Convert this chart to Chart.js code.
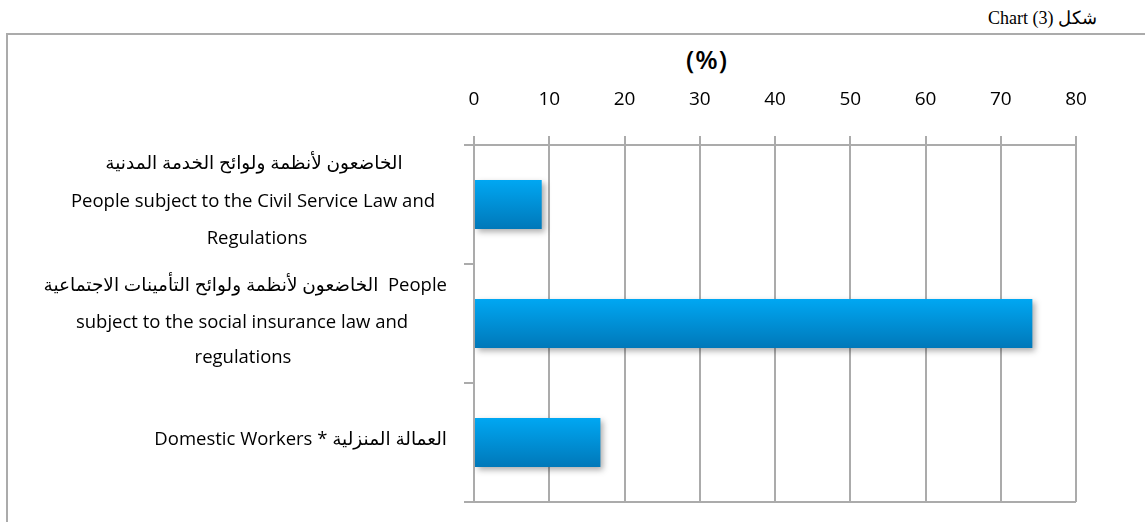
<!DOCTYPE html>
<html><head><meta charset="utf-8">
<script src="https://cdn.jsdelivr.net/npm/chart.js@4.4.0/dist/chart.umd.min.js"></script>
<style>
html,body{margin:0;padding:0;background:#fff;width:1145px;height:522px;overflow:hidden;}
#frame{position:absolute;left:6px;top:33px;width:1145px;height:500px;border-left:2px solid #ababab;border-top:2px solid #ababab;}
#cap{position:absolute;right:48px;top:7px;font-family:'Liberation Serif','Times New Roman',serif;font-size:18px;color:#000;white-space:nowrap;}
#unit{position:absolute;left:686px;top:41px;font-family:'Open Sans',sans-serif;font-size:26px;font-weight:600;letter-spacing:1px;color:#000;}
#wrap{position:absolute;left:0;top:0;width:1145px;height:522px;}
</style></head><body>
<div id="frame"></div>
<div id="cap">Chart (3) شكل</div>
<div id="unit">(%)</div>
<div id="wrap"><canvas id="c" width="1145" height="522"></canvas></div>
<script>
// ---- data ----
const categories = [
  ['الخاضعون لأنظمة ولوائح الخدمة المدنية', 'People subject to the Civil Service Law and', 'Regulations'],
  ['الخاضعون لأنظمة ولوائح التأمينات الاجتماعية  People', 'subject to the social insurance law and', 'regulations'],
  ['Domestic Workers * العمالة المنزلية']
];
const values = [9.0, 74.2, 16.8];
const xTickMin = 0;
const xTickMax = 80;
const xTickStep = 10;

// ---- layout / style (not data) ----
const GRID = '#ababab';
const FONT = "'Open Sans', 'DejaVu Sans', sans-serif";
const labelLayout = [
  [{x: 254, a: 'center', dy: -41}, {x: 253, a: 'center', dy: -3}, {x: 257, a: 'center', dy: 34}],
  [{x: 447, a: 'right', dy: -38}, {x: 242, a: 'center', dy: -1}, {x: 243, a: 'center', dy: 34}],
  [{x: 447, a: 'right', dy: -3}]
];

const barPct = 0.41;

function barGradient(ctx) {
  const chart = ctx.chart;
  if (!chart.chartArea || !chart.scales.y) return '#0090D5';
  const ys = chart.scales.y;
  const y = ys.getPixelForValue(ctx.dataIndex);
  const h = (ys.bottom - ys.top) / categories.length * barPct;
  const g = chart.ctx.createLinearGradient(0, y - h / 2, 0, y + h / 2);
  g.addColorStop(0, '#00A7F2');
  g.addColorStop(1, '#0078B9');
  return g;
}

const shadowPlugin = {
  id: 'barShadow',
  beforeDatasetsDraw(chart) {
    const c = chart.ctx; c.save();
    c.shadowColor = 'rgba(0,0,0,0.32)';
    c.shadowBlur = 6; c.shadowOffsetX = 3; c.shadowOffsetY = 3;
  },
  afterDatasetsDraw(chart) { chart.ctx.restore(); }
};

const labelPlugin = {
  id: 'catLabels',
  afterDraw(chart) {
    const c = chart.ctx, ys = chart.scales.y;
    c.save();
    c.fillStyle = '#000';
    c.font = '18.5px ' + FONT;
    c.textBaseline = 'middle';
    c.direction = 'ltr';
    categories.forEach((lines, i) => {
      const yc = ys.getPixelForValue(i);
      lines.forEach((t, j) => {
        const L = labelLayout[i][j];
        c.textAlign = L.a;
        c.fillText(t, L.x, yc + L.dy);
      });
    });
    c.restore();
  }
};

new Chart(document.getElementById('c'), {
  type: 'bar',
  data: {
    labels: categories,
    datasets: [{
      data: values,
      backgroundColor: barGradient,
      borderWidth: 0,
      barPercentage: barPct,
      categoryPercentage: 1
    }]
  },
  options: {
    indexAxis: 'y',
    responsive: false,
    animation: false,
    layout: {padding: {left: 0, right: 69, top: 0, bottom: 20}},
    plugins: {legend: {display: false}, tooltip: {enabled: false}},
    scales: {
      x: {
        position: 'top',
        min: xTickMin, max: xTickMax,
        ticks: {stepSize: xTickStep, color: '#000', font: {family: FONT, size: 19}, padding: 25},
        grid: {color: GRID, lineWidth: 2, tickLength: 9, drawTicks: true},
        border: {display: true, color: GRID, width: 2},
        afterFit: s => { s.height = 145; }
      },
      y: {
        offset: true,
        ticks: {display: false},
        grid: {
          offset: true,
          lineWidth: 2,
          tickLength: 10,
          tickColor: GRID,
          color: c => (c.type !== 'tick' || c.index === 0) ? GRID : 'rgba(0,0,0,0)'
        },
        border: {display: true, color: GRID, width: 2},
        afterFit: s => { s.width = 474; }
      }
    }
  },
  plugins: [shadowPlugin, labelPlugin]
});
</script>
</body></html>
